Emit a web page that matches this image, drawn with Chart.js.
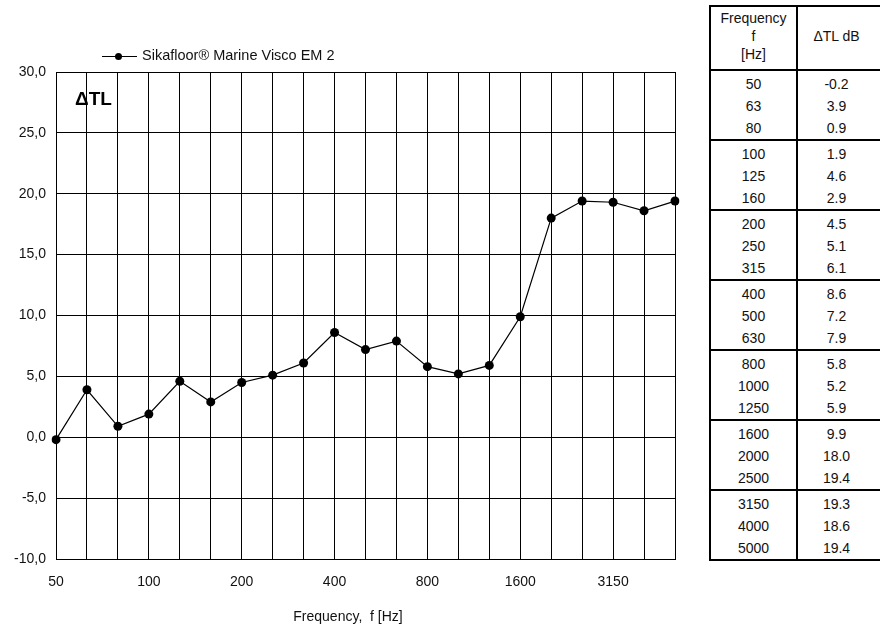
<!DOCTYPE html>
<html>
<head>
<meta charset="utf-8">
<script src="https://cdn.jsdelivr.net/npm/chart.js@4/dist/chart.umd.min.js"></script>
<style>
  html, body { margin:0; padding:0; background:#fff; width:880px; height:632px; overflow:hidden; }
  #wrap { position:absolute; left:0; top:0; width:700px; height:632px; }
  #tbl { position:absolute; left:709px; top:5px; width:178px; border:2px solid #000; box-sizing:border-box;
         font-family:"Liberation Sans", Arial, sans-serif; font-size:14px; color:#111; }
  .row { display:flex; }
  .hdr { height:64px; border-bottom:2px solid #000; box-sizing:border-box; }
  .c1 { width:87px; border-right:2px solid #000; box-sizing:border-box; text-align:center; }
  .c2 { width:77px; text-align:center; }
  .hdr .c1 { line-height:18px; padding-top:2px; }
  .hdr .c2 { line-height:58px; }
  .grp { height:70px; border-bottom:2px solid #000; box-sizing:border-box; }
  .grp:last-child { border-bottom:none; height:68px; }
  .grp .c1, .grp .c2 { padding-top:2px; line-height:22px; }
</style>
</head>
<body>
<div id="wrap"><canvas id="c" width="700" height="632"></canvas></div>
<div id="tbl"></div>
<script>
const frequencies = ['50','63','80','100','125','160','200','250','315','400','500','630','800','1000','1250','1600','2000','2500','3150','4000','5000'];
const deltaTL = [-0.2, 3.9, 0.9, 1.9, 4.6, 2.9, 4.5, 5.1, 6.1, 8.6, 7.2, 7.9, 5.8, 5.2, 5.9, 9.9, 18.0, 19.4, 19.3, 18.6, 19.4];
const shownXTicks = ['50','100','200','400','800','1600','3150'];
const seriesName = 'Sikafloor® Marine Visco EM 2';
const xTitle = 'Frequency,  f [Hz]';

// table
const tbl = document.getElementById('tbl');
let html = '<div class="row hdr"><div class="c1">Frequency<br>f<br>[Hz]</div><div class="c2">\u0394TL dB</div></div>';
for (let g = 0; g < frequencies.length; g += 3) {
  const fs = frequencies.slice(g, g + 3), vs = deltaTL.slice(g, g + 3);
  html += '<div class="row grp"><div class="c1">' + fs.join('<br>') + '</div><div class="c2">' +
          vs.map(v => v.toFixed(1)).join('<br>') + '</div></div>';
}
tbl.innerHTML = html;

const FONT = '"Liberation Sans", Arial, sans-serif';

const extras = {
  id: 'extras',
  afterDraw(chart) {
    const ctx = chart.ctx;
    ctx.save();
    // legend
    ctx.strokeStyle = '#000'; ctx.lineWidth = 1;
    ctx.beginPath(); ctx.moveTo(102, 56.5); ctx.lineTo(137, 56.5); ctx.stroke();
    ctx.fillStyle = '#000';
    ctx.beginPath(); ctx.arc(118.5, 56.5, 3.5, 0, Math.PI * 2); ctx.fill();
    ctx.font = '14.5px ' + FONT; ctx.fillStyle = '#111';
    ctx.textBaseline = 'middle'; ctx.textAlign = 'left';
    ctx.fillText(seriesName, 142, 56);
    // delta TL label
    ctx.font = 'bold 19px ' + FONT; ctx.fillStyle = '#000';
    ctx.fillText('\u0394TL', 75, 100);
    // x title
    ctx.font = '14px ' + FONT; ctx.fillStyle = '#111'; ctx.textAlign = 'center';
    ctx.fillText(xTitle, 348, 617);
    ctx.restore();
  }
};

new Chart(document.getElementById('c'), {
  type: 'line',
  data: {
    labels: frequencies,
    datasets: [{
      label: seriesName,
      data: deltaTL,
      borderColor: '#000',
      backgroundColor: '#000',
      borderWidth: 1.2,
      pointRadius: 4.5,
      pointHoverRadius: 4.5,
      pointBackgroundColor: '#000',
      pointBorderWidth: 0,
      tension: 0
    }]
  },
  options: {
    responsive: false,
    animation: false,
    devicePixelRatio: 1,
    layout: { padding: { top: 72, right: 25, left: 0, bottom: 0 } },
    plugins: { legend: { display: false }, tooltip: { enabled: false } },
    scales: {
      x: {
        type: 'category',
        offset: false,
        grid: { color: '#000', lineWidth: 1, drawTicks: false, offset: false },
        border: { color: '#000', width: 1 },
        ticks: {
          autoSkip: false, maxRotation: 0, padding: 15, color: '#111',
          font: { family: FONT, size: 14 },
          callback: function (v, i) { const l = frequencies[i]; return shownXTicks.includes(l) ? l : ''; }
        },
        afterFit(s) { s.height = 73; }
      },
      y: {
        min: -10, max: 30,
        grid: { color: '#000', lineWidth: 1, drawTicks: false },
        border: { color: '#000', width: 1 },
        ticks: {
          stepSize: 5, padding: 10, color: '#111',
          font: { family: FONT, size: 14 },
          callback: v => v.toFixed(1).replace('.', ',')
        },
        afterFit(s) { s.width = 56; }
      }
    }
  },
  plugins: [extras]
});
</script>
</body>
</html>
